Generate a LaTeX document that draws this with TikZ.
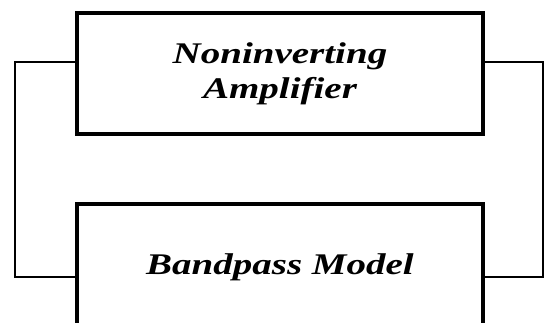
\documentclass[tikz,border=0pt]{standalone}
\usepackage{fontspec}
\newfontfamily\blockfont{Liberation Serif}[FakeStretch=1.3]
\usetikzlibrary{positioning}
\tikzset{
    block/.style={draw, line width=3.5pt, minimum width=406pt, outer sep=0pt, inner sep=0pt}, % the two boxes
    blocktext/.style={anchor=north, inner sep=0pt, align=center, font=\blockfont\bfseries\itshape\fontsize{30pt}{35pt}\selectfont}, % box titles
    wire/.style={line width=2pt}, % the loop lines
}

\begin{document}
\begin{tikzpicture}
    \useasboundingbox (0,0) rectangle (546pt,-322pt);

    \node[block, minimum height=121pt] (amp) at (280pt,-73.5pt) {};
    \node[block, minimum height=140pt, below=70pt of amp] (model) {};

    \node[blocktext, below=29pt of amp.north] (amptext) {Noninverting\\Amplifier};
    \node[blocktext, below=49pt of model.north] (modeltext) {Bandpass Model};

    \coordinate (inA) at ([yshift=-49pt]amp.north west);
    \coordinate (inB) at ([yshift=-73pt]model.north west);
    \coordinate (outA) at ([yshift=-49pt]amp.north east);
    \coordinate (outB) at ([yshift=-73pt]model.north east);

    \draw[wire] (inA) -- ++(-62pt,0) |- (inB);
    \draw[wire] (outA) -- ++(60pt,0) |- (outB);
\end{tikzpicture}
\end{document}
